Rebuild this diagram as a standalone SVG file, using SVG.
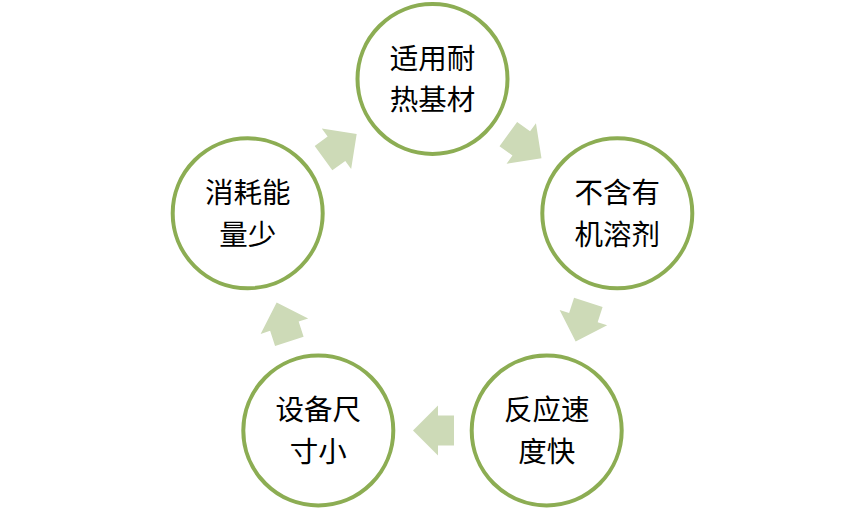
<svg xmlns="http://www.w3.org/2000/svg" width="865" height="509" viewBox="0 0 865 509">
<style>
.node circle{fill:#FFFFFF;stroke:#8CAD53;stroke-width:4}
.node text{font-family:"Noto Sans CJK SC","Noto Sans CJK TC",sans-serif;font-size:28.5px;fill:#000000;text-anchor:middle;dominant-baseline:central}
.arrow{fill:#CDDAB7}
</style>
<defs>
<polygon id="arr" points="20.5,0 -4.5,25 -4.5,15 -20.5,15 -20.5,-15 -4.5,-15 -4.5,-25"/>
</defs>
<rect width="865" height="509" fill="#FFFFFF"/>
<g id="connectors">
<use href="#arr" class="arrow" transform="translate(524.9,146.1) rotate(36)"/>
<use href="#arr" class="arrow" transform="translate(582.0,321.9) rotate(108)"/>
<use href="#arr" class="arrow" transform="translate(433.5,430.5) rotate(180)"/>
<use href="#arr" class="arrow" transform="translate(283.0,321.9) rotate(252)"/>
<use href="#arr" class="arrow" transform="translate(340.1,146.1) rotate(324)"/>
</g>
<g id="n1" class="node"><circle cx="432.5" cy="79" r="75"/><text><tspan x="432.5" y="55.5">适用耐</tspan><tspan x="432.5" y="97">热基材</tspan></text></g>
<g id="n2" class="node"><circle cx="617.3" cy="213.3" r="75"/><text><tspan x="617.3" y="190">不含有</tspan><tspan x="617.3" y="231.5">机溶剂</tspan></text></g>
<g id="n3" class="node"><circle cx="546.7" cy="430.5" r="75"/><text><tspan x="546.7" y="407">反应速</tspan><tspan x="546.7" y="448.5">度快</tspan></text></g>
<g id="n4" class="node"><circle cx="318.3" cy="430.5" r="75"/><text><tspan x="318.3" y="407">设备尺</tspan><tspan x="318.3" y="448.5">寸小</tspan></text></g>
<g id="n5" class="node"><circle cx="247.7" cy="213.3" r="75"/><text><tspan x="247.7" y="190">消耗能</tspan><tspan x="247.7" y="231.5">量少</tspan></text></g>
</svg>
